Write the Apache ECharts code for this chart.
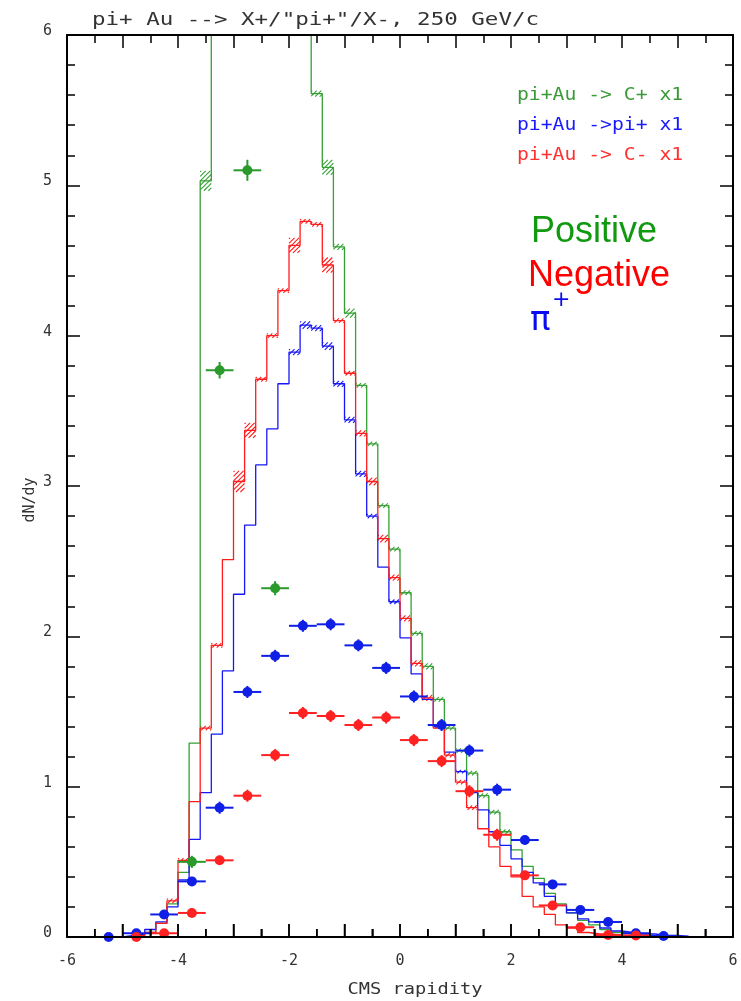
<!DOCTYPE html>
<html>
<head>
<meta charset="utf-8">
<script src="https://cdn.jsdelivr.net/npm/echarts@6/dist/echarts.min.js"></script>
<style>
html,body{margin:0;padding:0;background:#fff}
#chart{width:741px;height:1001px}
</style>
</head>
<body>
<div id="chart"></div>
<script>
// Histogram binning: bin i covers [binStart + i*binWidth, binStart + (i+1)*binWidth]
const binStart = -5.4;
const binWidth = 0.2;

// dN/dy per bin (model): positive hadrons, pi+, negative hadrons
const histPositive = [null, null, 0.00, 0.01, 0.03, 0.09, 0.22, 0.43, 1.29, 5.03,
  7.4, 8.6, 9.5, 10.0, 10.1, 9.7, 8.9, 7.9, 6.8,
  5.61, 5.12, 4.59, 4.15, 3.67, 3.28, 2.87, 2.58, 2.29, 2.02, 1.80, 1.58, 1.39,
  1.24, 1.09, 0.94, 0.83, 0.70, 0.58, 0.47, 0.39, 0.29, 0.22, 0.16, 0.11, 0.08,
  0.05, 0.03, 0.02, 0.01, 0.01];
const histPiPlus = [0.00, 0.00, 0.01, 0.02, 0.05, 0.10, 0.20, 0.38, 0.65, 0.96,
  1.35, 1.77, 2.28, 2.74, 3.14, 3.38, 3.68, 3.89, 4.07, 4.05, 3.93, 3.68, 3.44,
  3.08, 2.80, 2.46, 2.23, 1.99, 1.75, 1.58, 1.40, 1.23, 1.10, 0.96, 0.845, 0.70,
  0.61, 0.52, 0.43, 0.36, 0.27, 0.21, 0.16, 0.12, 0.10, 0.06, 0.04, 0.03, 0.02,
  0.02, 0.01, 0.01, 0.005];
const histNegative = [null, null, 0.00, 0.01, 0.03, 0.09, 0.24, 0.51, 0.90, 1.39,
  1.94, 2.51, 3.03, 3.37, 3.71, 4.00, 4.30, 4.60, 4.76, 4.74, 4.47, 4.10, 3.75,
  3.35, 3.03, 2.65, 2.39, 2.12, 1.82, 1.59, 1.39, 1.21, 1.03, 0.86, 0.72, 0.60,
  0.47, 0.40, 0.27, 0.20, 0.15, 0.08, 0.06, 0.03, 0.02, 0.02, 0.01, 0.01];

// Statistical error of the model histograms, [bin index, error]
const errPositive = [[9, 0.066], [19, 0.02], [20, 0.05], [21, 0.02], [22, 0.03], [23, 0.015],
  [24, 0.015], [25, 0.015], [26, 0.015], [27, 0.015], [28, 0.015], [29, 0.02], [30, 0.015],
  [31, 0.015], [32, 0.015], [33, 0.015], [34, 0.015], [35, 0.015], [36, 0.015]];
const errPiPlus = [[17, 0.02], [18, 0.025], [19, 0.02], [20, 0.025], [21, 0.02], [22, 0.02],
  [23, 0.02], [24, 0.015], [26, 0.015], [30, 0.012], [32, 0.012]];
const errNegative = [[6, 0.015], [7, 0.015], [9, 0.015], [10, 0.015], [12, 0.07], [13, 0.05],
  [14, 0.015], [15, 0.015], [16, 0.015], [17, 0.05], [18, 0.015], [19, 0.015], [20, 0.05],
  [21, 0.015], [22, 0.015], [23, 0.02], [24, 0.025], [25, 0.025], [26, 0.02], [27, 0.02],
  [28, 0.02], [29, 0.02], [31, 0.015], [32, 0.015], [33, 0.015]];

// Measured points (bin centres, half-width of the rapidity bin, stat. error)
const ptHalfWidth = 0.25;
const posX = [-3.75, -3.25, -2.75, -2.25];
const posY = [0.50, 3.77, 5.10, 2.32];
const posErr = [0.04, 0.055, 0.07, 0.047];

const piX = [-5.25, -4.75, -4.25, -3.75, -3.25, -2.75, -2.25, -1.75, -1.25, -0.75,
  -0.25, 0.25, 0.75, 1.25, 1.75, 2.25, 2.75, 3.25, 3.75, 4.25, 4.75];
const piY = [0.00, 0.025, 0.15, 0.37, 0.86, 1.63, 1.87, 2.07, 2.08, 1.94,
  1.79, 1.60, 1.41, 1.24, 0.98, 0.645, 0.35, 0.18, 0.10, 0.025, 0.007];
const piErr = [0.01, 0.01, 0.02, 0.03, 0.04, 0.04, 0.04, 0.04, 0.04, 0.04,
  0.04, 0.04, 0.04, 0.04, 0.04, 0.03, 0.03, 0.02, 0.02, 0.01, 0.01];

const negX = [-4.75, -4.25, -3.75, -3.25, -2.75, -2.25, -1.75, -1.25, -0.75, -0.25,
  0.25, 0.75, 1.25, 1.75, 2.25, 2.75, 3.25, 3.75, 4.25];
const negY = [0.00, 0.025, 0.16, 0.51, 0.94, 1.21, 1.49, 1.47, 1.41, 1.46,
  1.31, 1.17, 0.97, 0.68, 0.41, 0.21, 0.065, 0.013, 0.01];
const negErr = [0.01, 0.01, 0.02, 0.03, 0.04, 0.04, 0.04, 0.04, 0.04, 0.04,
  0.04, 0.04, 0.04, 0.04, 0.03, 0.03, 0.02, 0.01, 0.01];

// Axis ranges and tick labels
const xMin = -6, xMax = 6, xStep = 1, xMinorStep = 0.5;
const yMin = 0, yMax = 6, yStep = 1;
const xLabelValues = [-6, -4, -2, 0, 2, 4, 6];

const GREEN = '#35a035';
const BLUE = '#1717f5';
const RED = '#ff1c1c';
const MONO = '"DejaVu Sans Mono", monospace';
const MAJOR_TICK = 13, MINOR_TICK = 8;

function binEdge(i) {
  return +(binStart + i * binWidth).toFixed(3);
}

function stepData(vals) {
  const out = [];
  let last = null;
  vals.forEach((v, i) => {
    if (v == null) return;
    const e = binEdge(i);
    out.push([e, v]);
    last = [binEdge(i + 1), v];
  });
  if (last) out.push(last);
  return out;
}

function hatchData(vals, errs) {
  return errs.map(([i, e]) => [binEdge(i), binEdge(i + 1), vals[i], e]);
}

function pointData(xs, ys, es) {
  return xs.map((x, i) => [x, ys[i], es[i]]);
}

// tick positions along the lower frame edge (major every unit, minor every half unit)
const lowerTickValues = [];
for (let k = 0; xMin + k * xMinorStep <= xMax; k++) lowerTickValues.push(xMin + k * xMinorStep);

// error band of a histogram bin drawn as a small hatched box
function hatchRender(params, api) {
  const x0v = api.value(0), x1v = api.value(1), v = api.value(2), e = api.value(3);
  const tl = api.coord([x0v, v + e]);
  const br = api.coord([x1v, v - e]);
  const x0 = tl[0], x1 = br[0], top = tl[1], bottom = br[1];
  const h = bottom - top;
  const gap = 4.5;
  const st = { stroke: api.visual('color'), lineWidth: 1.1 };
  const children = [];
  for (let s = x0 - h + 1; s < x1; s += gap) {
    let sx = s, sy = bottom, ex = s + h, ey = top;
    if (sx < x0) { sy = bottom - (x0 - s); sx = x0; }
    if (ex > x1) { ey = bottom - (x1 - s); ex = x1; }
    if (ex - sx < 1) continue;
    children.push({ type: 'line', shape: { x1: sx, y1: sy, x2: ex, y2: ey }, style: st });
  }
  return { type: 'group', children: children };
}

function errRender(params, api) {
  const x = api.value(0), y = api.value(1), e = api.value(2);
  const a = api.coord([x - ptHalfWidth, y]);
  const b = api.coord([x + ptHalfWidth, y]);
  const t = api.coord([x, y + e]);
  const u = api.coord([x, y - e]);
  const st = { stroke: api.visual('color'), lineWidth: 2 };
  return {
    type: 'group',
    children: [
      { type: 'line', shape: { x1: a[0], y1: a[1], x2: b[0], y2: b[1] }, style: st },
      { type: 'line', shape: { x1: t[0], y1: t[1], x2: u[0], y2: u[1] }, style: st }
    ]
  };
}

// inward ticks on the lower frame edge
function lowerTickRender(params, api) {
  const v = api.value(0);
  const p = api.coord([v, api.value(1)]);
  const len = Number.isInteger(v / xStep) ? MAJOR_TICK : MINOR_TICK;
  return {
    type: 'line',
    shape: { x1: p[0], y1: p[1], x2: p[0], y2: p[1] - len },
    style: { stroke: '#000', lineWidth: 1.5 }
  };
}

function histSeries(vals, color) {
  return {
    type: 'line', step: 'end', data: stepData(vals), symbol: 'none', clip: true,
    lineStyle: { color: color, width: 1.3 }, animation: false, z: 3
  };
}
function hatchSeries(vals, errs, color) {
  return {
    type: 'custom', renderItem: hatchRender, data: hatchData(vals, errs), clip: true,
    itemStyle: { color: color }, animation: false, z: 3
  };
}
function errSeries(xs, ys, es, color) {
  return {
    type: 'custom', renderItem: errRender, data: pointData(xs, ys, es), clip: true,
    itemStyle: { color: color }, animation: false, z: 4
  };
}
function dotSeries(xs, ys, es, color) {
  return {
    type: 'scatter', data: pointData(xs, ys, es), symbol: 'circle', symbolSize: 10,
    itemStyle: { color: color, opacity: 1 }, animation: false, z: 5
  };
}

// frame axis: ticks pointing into the plot
function frameAxis(kind, position, withLabels) {
  const isX = kind === 'x';
  const ax = {
    type: 'value',
    min: isX ? xMin : yMin, max: isX ? xMax : yMax, interval: isX ? xStep : yStep,
    position: position,
    z: 8,
    axisLine: { show: true, onZero: false, lineStyle: { color: '#000', width: 2 } },
    axisTick: { show: true, inside: true, length: MAJOR_TICK, lineStyle: { color: '#000', width: 1.5 } },
    minorTick: { show: true, splitNumber: isX ? 2 : 5, length: MINOR_TICK, lineStyle: { color: '#000', width: 1.5 } },
    splitLine: { show: false },
    axisLabel: { show: false }
  };
  if (withLabels && isX) {
    ax.axisLabel = {
      show: true, margin: 17, color: '#333', fontFamily: MONO, fontSize: 15,
      formatter: v => xLabelValues.includes(v) ? String(v) : ''
    };
  }
  if (withLabels && !isX) {
    ax.axisLabel = {
      show: true, margin: 15, color: '#333', fontFamily: MONO, fontSize: 15,
      verticalAlign: 'bottom', lineHeight: 8
    };
  }
  return ax;
}

const chart = echarts.init(document.getElementById('chart'), null, { renderer: 'canvas' });
chart.setOption({
  backgroundColor: '#fff',
  animation: false,
  grid: { left: 67, right: 8, top: 35, bottom: 64, containLabel: false },
  xAxis: [frameAxis('x', 'bottom', true), frameAxis('x', 'top', false)],
  yAxis: [frameAxis('y', 'left', true), frameAxis('y', 'right', false)],
  series: [
    histSeries(histPositive, GREEN),
    hatchSeries(histPositive, errPositive, GREEN),
    histSeries(histPiPlus, BLUE),
    hatchSeries(histPiPlus, errPiPlus, BLUE),
    histSeries(histNegative, RED),
    hatchSeries(histNegative, errNegative, RED),
    errSeries(posX, posY, posErr, '#2a9a2a'),
    dotSeries(posX, posY, posErr, '#2a9a2a'),
    errSeries(piX, piY, piErr, '#0f1fe6'),
    dotSeries(piX, piY, piErr, '#0f1fe6'),
    errSeries(negX, negY, negErr, '#ff2222'),
    dotSeries(negX, negY, negErr, '#ff2222'),
    {
      type: 'custom', renderItem: lowerTickRender,
      data: lowerTickValues.map(v => [v, yMin]),
      encode: { x: 0, y: 1 },
      xAxisIndex: 0, yAxisIndex: 0,
      clip: false, silent: true, animation: false, z: 9
    }
  ],
  graphic: [
    { type: 'text', x: 92, y: 20, scaleX: 1.25, z: 10,
      style: { text: 'pi+ Au --> X+/"pi+"/X-, 250 GeV/c', font: '18px ' + MONO, fill: '#333', verticalAlign: 'middle' } },
    { type: 'text', x: 517, y: 96, scaleX: 1.16, z: 10,
      style: { text: 'pi+Au -> C+ x1', font: '17px ' + MONO, fill: '#3a9a3a', verticalAlign: 'middle' } },
    { type: 'text', x: 517, y: 126, scaleX: 1.16, z: 10,
      style: { text: 'pi+Au ->pi+ x1', font: '17px ' + MONO, fill: '#1a1aff', verticalAlign: 'middle' } },
    { type: 'text', x: 517, y: 156, scaleX: 1.16, z: 10,
      style: { text: 'pi+Au -> C- x1', font: '17px ' + MONO, fill: '#ff3030', verticalAlign: 'middle' } },
    { type: 'text', x: 531, y: 232, z: 10,
      style: { text: 'Positive', font: '36px "Liberation Sans", Arial, sans-serif', fill: '#119a11', verticalAlign: 'middle' } },
    { type: 'text', x: 528, y: 276, z: 10,
      style: { text: 'Negative', font: '36px "Liberation Sans", Arial, sans-serif', fill: '#ff0000', verticalAlign: 'middle' } },
    { type: 'text', x: 530, y: 321, z: 10,
      style: { text: 'π', font: '34px "DejaVu Sans", sans-serif', fill: '#0a0af0', verticalAlign: 'middle' } },
    { type: 'text', x: 552, y: 300, z: 10,
      style: { text: '+', font: '22px "DejaVu Sans", sans-serif', fill: '#0a0af0', verticalAlign: 'middle' } },
    { type: 'text', x: 30, y: 500, rotation: Math.PI / 2, z: 10,
      style: { text: 'dN/dy', font: '15px ' + MONO, fill: '#333', align: 'center', verticalAlign: 'middle' } },
    { type: 'text', x: 415, y: 990, scaleX: 1.17, z: 10,
      style: { text: 'CMS rapidity', font: '16px ' + MONO, fill: '#333', align: 'center', verticalAlign: 'middle' } }
  ]
});
</script>
</body>
</html>
